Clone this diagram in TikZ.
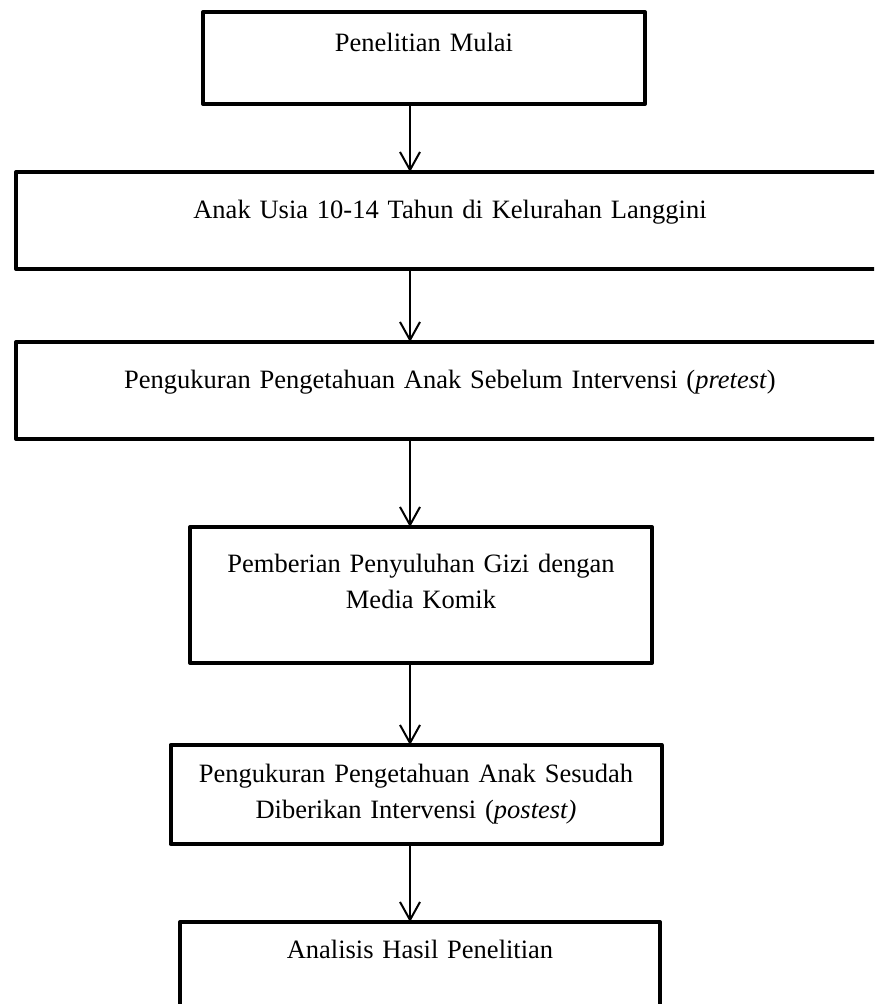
\documentclass[tikz,border=0pt]{standalone}
\usepackage{fontspec}
\setmainfont{Liberation Serif}
\usetikzlibrary{positioning,arrows.meta}

\begin{document}
\begin{tikzpicture}[>={Straight Barb[length=9pt,width=10pt]},
  box/.style={draw,line width=2pt,line join=round,outer sep=0pt,inner sep=0pt,
    align=center,font=\fontsize{13.25pt}{18pt}\selectfont}]
\useasboundingbox (0,0) rectangle (437pt,-502pt);
\clip (0,0) rectangle (437pt,-502pt);
\coordinate (ax) at (205pt,0);
\node (b1) [box,anchor=north,text width=221pt,text height=20pt,text depth=26pt] at (212pt,-6pt) {Penelitian Mulai};
\node (b2) [box,below=34pt of b1,xshift=13pt,text width=434pt,text height=23.5pt,text depth=25pt] {Anak Usia 10-14 Tahun di Kelurahan Langgini};
\node (b3) [box,below=36.5pt of b2,text width=434pt,text height=23.5pt,text depth=25pt] {Pengukuran Pengetahuan Anak Sebelum Intervensi (\textit{pretest})};
\node (b4) [box,below=44pt of b3,xshift=-14.5pt,text width=231pt,text height=22.5pt,text depth=45.5pt] {Pemberian Penyuluhan Gizi dengan\\Media Komik};
\node (b5) [box,below=41pt of b4,xshift=-2.5pt,text width=245.5pt,text height=18.5pt,text depth=31pt] {Pengukuran Pengetahuan Anak Sesudah\\Diberikan Intervensi (\textit{postest)}};
\node (b6) [box,below=39pt of b5,xshift=2pt,text width=240pt,text height=18pt,text depth=40pt] {Analisis Hasil Penelitian};
\draw[->,line width=1pt] (b1.south -| ax) -- (b2.north -| ax);
\draw[->,line width=1pt] (b2.south -| ax) -- (b3.north -| ax);
\draw[->,line width=1pt] (b3.south -| ax) -- (b4.north -| ax);
\draw[->,line width=1pt] (b4.south -| ax) -- (b5.north -| ax);
\draw[->,line width=1pt] (b5.south -| ax) -- (b6.north -| ax);
\end{tikzpicture}
\end{document}
